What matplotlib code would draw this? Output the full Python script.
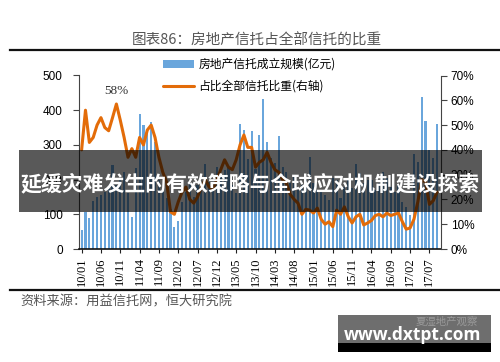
import matplotlib
matplotlib.use("Agg")
import matplotlib.pyplot as plt
from matplotlib.patches import Rectangle
from matplotlib.lines import Line2D

# 房地产信托成立规模（亿元），2010/01 - 2017/09 月度
scale = [55, 107, 90, 138, 150, 156, 165, 175, 242, 185,
         199, 222, 160, 93, 233, 390, 357, 338, 367, 309,
         199, 170, 146, 115, 64, 82, 136, 165, 189, 150,
         184, 175, 245, 194, 180, 237, 208, 228, 233, 185,
         160, 360, 343, 260, 341, 230, 328, 431, 309, 262,
         248, 326, 237, 223, 190, 208, 170, 184, 200, 264,
         189, 170, 170, 156, 141, 204, 199, 146, 180, 204,
         175, 245, 218, 189, 199, 199, 170, 189, 223, 204,
         180, 165, 184, 136, 122, 98, 274, 252, 438, 369,
         285, 263, 361]

# 占全部信托比重（%）
share = [40, 56, 43, 45, 50, 53, 49, 47.7, 53, 58.5,
         52, 45, 37, 40.5, 37, 45, 42, 48, 50, 45,
         37, 31, 27, 15, 14, 19, 23, 25, 20, 18.5,
         21, 25, 28, 25, 24, 28, 32, 36, 33, 32,
         36, 42, 46, 41, 41, 33, 35, 36, 39, 35,
         32, 31, 28, 26.6, 22, 20, 18.5, 14, 16, 15.7,
         14.5, 16.5, 12, 10, 11, 9, 15.7, 14, 17, 13,
         10.5, 13, 14, 9.7, 10.5, 11.5, 13.5, 14, 13, 14.5,
         13.5, 14, 14.5, 11, 8, 8.5, 12, 19, 28, 27,
         18, 19.5, 23]

tick_labels = ["10/01", "10/06", "10/11", "11/04", "11/09", "12/02", "12/07",
               "12/12", "13/05", "13/10", "14/03", "14/08", "15/01", "15/06",
               "15/11", "16/04", "16/09", "17/02", "17/07"]

cjk = ["Noto Sans CJK SC", "DejaVu Sans"]
W, H = 500, 362

fig = plt.figure(figsize=(5, 3.62), dpi=100)
fig.patch.set_facecolor("white")

ax = fig.add_axes([79.3 / W, 1 - 249 / H, (441 - 79.3) / W, (249 - 75.5) / H])
idx = list(range(len(scale)))
bars = ax.bar(idx, scale, width=0.55, color="#6aa6dc", edgecolor="none", zorder=2)
ax.set_xlim(-0.6, 93.0)
ax.set_ylim(0, 500)
ax.set_yticks([0, 100, 200, 300, 400, 500])
ax.set_xticks(idx[::5])
ax.set_xticklabels(tick_labels, rotation=90, family="Liberation Serif", fontsize=9)
for lab in ax.get_yticklabels():
    lab.set_family("Liberation Sans")
    lab.set_fontsize(8.5)
ax.tick_params(axis="y", length=4, color="#444444", pad=8)
ax.tick_params(axis="x", length=3, color="#222222", pad=3)
ax.spines["top"].set_visible(False)
ax.spines["right"].set_visible(False)
ax.spines["left"].set_color("#444444")
ax.spines["bottom"].set_color("#111111")
ax.spines["bottom"].set_linewidth(1.2)

ax2 = ax.twinx()
line, = ax2.plot(idx, share, color="#e36c09", lw=2.2, solid_joinstyle="round",
                 solid_capstyle="round", zorder=3)
ax2.set_ylim(0, 70)
ax2.set_yticks([0, 10, 20, 30, 40, 50, 60, 70])
ax2.set_yticklabels([f"{v}%" for v in range(0, 80, 10)], family="Liberation Sans", fontsize=8.5)
ax2.tick_params(axis="y", length=4, color="#444444", pad=3)
ax2.spines["top"].set_visible(False)
ax2.spines["left"].set_visible(False)
ax2.spines["bottom"].set_visible(False)
ax2.spines["right"].set_color("#444444")

peak = share.index(max(share))
ax2.annotate("58%", xy=(peak, share[peak]), xytext=(0, 5), textcoords="offset points",
             ha="center", va="bottom", family="Liberation Serif", fontsize=9.5, color="#333333")

fig.legend([bars, line], ["房地产信托成立规模(亿元)", "占比全部信托比重(右轴)"],
           loc="upper left", bbox_to_anchor=(163 / W, 1 - 58 / H), frameon=False,
           prop={"family": cjk, "size": 8.5}, handlelength=2.6, handletextpad=0.4,
           labelspacing=0.75, borderpad=0, borderaxespad=0)

# title and rules
fig.text(257 / W, 1 - 41 / H, "图表86：房地产信托占全部信托的比重", ha="center", va="center",
         family=cjk, fontsize=10.5, color="#555555")
fig.add_artist(Line2D([10 / W, 1], [1 - 50 / H] * 2, color="#111111", lw=1.6))
fig.add_artist(Line2D([10 / W, 1], [1 - 289.5 / H] * 2, color="#111111", lw=1.6))
fig.text(20 / W, 1 - 301.5 / H, "资料来源：用益信托网，恒大研究院", ha="left", va="center",
         family=cjk, fontsize=9.5, color="#555555")

# overlay banner
fig.add_artist(Rectangle((19 / W, 1 - 212 / H), (482 - 19) / W, 62 / H,
                         transform=fig.transFigure, facecolor="black", alpha=0.65,
                         edgecolor="none", zorder=10))
fig.text(250 / W, 1 - 184 / H, "延缓灾难发生的有效策略与全球应对机制建设探索", ha="center",
         va="center", family=cjk, fontsize=15, fontweight="bold", color="white", zorder=11)

# watermark
fig.add_artist(Rectangle((338 / W, 1 - 343 / H), 153 / W, 28 / H, transform=fig.transFigure,
                         facecolor="#6e6e6e", edgecolor="none", zorder=10))
fig.add_artist(Rectangle((338 / W, 1 - 352 / H), 153 / W, 9 / H, transform=fig.transFigure,
                         facecolor="black", edgecolor="none", zorder=10))
fig.text(478 / W, 1 - 322 / H, "夏湿地产观察", ha="right", va="center", family=cjk,
         fontsize=7.5, color="#9a9a9a", zorder=11)
fig.text(413 / W, 1 - 335 / H, "www.dxtpt.com", ha="center", va="center",
         family=["Open Sans", "DejaVu Sans"], fontsize=12.5, fontweight="bold",
         color="white", zorder=11)

fig.savefig("out.png", dpi=100)
